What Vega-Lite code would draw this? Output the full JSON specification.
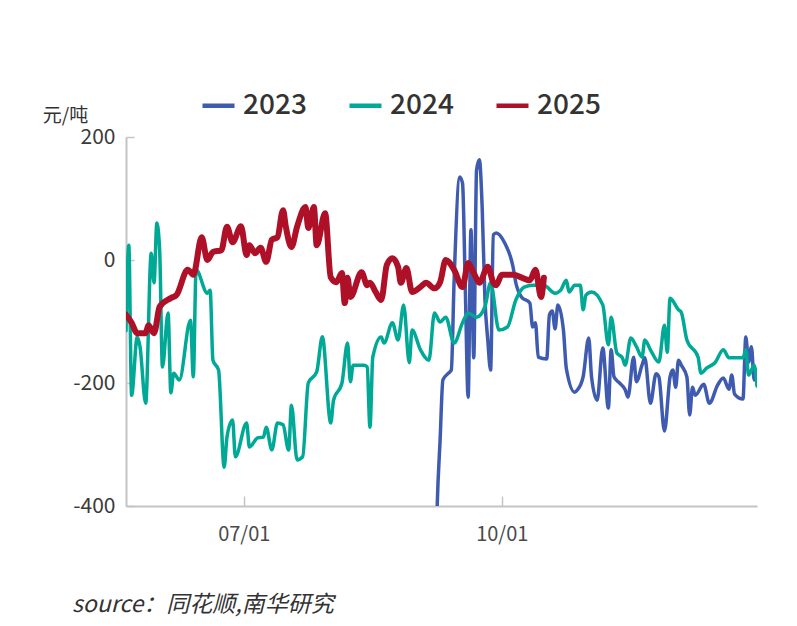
{
  "$schema": "https://vega.github.io/schema/vega-lite/v6.json",
  "autosize": {"type": "none"},
  "padding": {"left": 126, "top": 137, "right": 40, "bottom": 120},
  "width": 631,
  "height": 369,
  "background": "white",
  "config": {
    "view": {"stroke": null},
    "font": "Noto Sans CJK SC"
  },
  "title": {
    "text": "source：同花顺,南华研究",
    "orient": "bottom",
    "anchor": "start",
    "frame": "group",
    "dx": -54,
    "offset": 50,
    "fontSize": 23,
    "fontWeight": "normal",
    "fontStyle": "italic",
    "color": "#333333",
    "font": "Noto Sans CJK SC"
  },
  "datasets": {
    "spread": [
      {"s": "2023", "d": "2023-09-07", "v": -600},
      {"s": "2023", "d": "2023-09-08", "v": -395},
      {"s": "2023", "d": "2023-09-09", "v": -293},
      {"s": "2023", "d": "2023-09-10", "v": -195},
      {"s": "2023", "d": "2023-09-12", "v": -184},
      {"s": "2023", "d": "2023-09-13", "v": -179},
      {"s": "2023", "d": "2023-09-14", "v": -33},
      {"s": "2023", "d": "2023-09-16", "v": 135},
      {"s": "2023", "d": "2023-09-17", "v": 125},
      {"s": "2023", "d": "2023-09-18", "v": -49},
      {"s": "2023", "d": "2023-09-19", "v": -223},
      {"s": "2023", "d": "2023-09-20", "v": 49},
      {"s": "2023", "d": "2023-09-21", "v": -159},
      {"s": "2023", "d": "2023-09-22", "v": 146},
      {"s": "2023", "d": "2023-09-23", "v": 163},
      {"s": "2023", "d": "2023-09-24", "v": 86},
      {"s": "2023", "d": "2023-09-25", "v": -65},
      {"s": "2023", "d": "2023-09-26", "v": -130},
      {"s": "2023", "d": "2023-09-27", "v": -179},
      {"s": "2023", "d": "2023-09-28", "v": 41},
      {"s": "2023", "d": "2023-09-29", "v": 44},
      {"s": "2023", "d": "2023-10-02", "v": 28},
      {"s": "2023", "d": "2023-10-05", "v": -11},
      {"s": "2023", "d": "2023-10-06", "v": -37},
      {"s": "2023", "d": "2023-10-08", "v": -60},
      {"s": "2023", "d": "2023-10-11", "v": -70},
      {"s": "2023", "d": "2023-10-12", "v": -109},
      {"s": "2023", "d": "2023-10-13", "v": -102},
      {"s": "2023", "d": "2023-10-14", "v": -158},
      {"s": "2023", "d": "2023-10-17", "v": -161},
      {"s": "2023", "d": "2023-10-18", "v": -89},
      {"s": "2023", "d": "2023-10-19", "v": -83},
      {"s": "2023", "d": "2023-10-20", "v": -112},
      {"s": "2023", "d": "2023-10-21", "v": -73},
      {"s": "2023", "d": "2023-10-23", "v": -115},
      {"s": "2023", "d": "2023-10-24", "v": -176},
      {"s": "2023", "d": "2023-10-27", "v": -215},
      {"s": "2023", "d": "2023-10-28", "v": -211},
      {"s": "2023", "d": "2023-10-30", "v": -190},
      {"s": "2023", "d": "2023-11-01", "v": -127},
      {"s": "2023", "d": "2023-11-02", "v": -190},
      {"s": "2023", "d": "2023-11-04", "v": -228},
      {"s": "2023", "d": "2023-11-06", "v": -143},
      {"s": "2023", "d": "2023-11-08", "v": -241},
      {"s": "2023", "d": "2023-11-09", "v": -146},
      {"s": "2023", "d": "2023-11-10", "v": -190},
      {"s": "2023", "d": "2023-11-12", "v": -200},
      {"s": "2023", "d": "2023-11-14", "v": -211},
      {"s": "2023", "d": "2023-11-15", "v": -223},
      {"s": "2023", "d": "2023-11-17", "v": -158},
      {"s": "2023", "d": "2023-11-18", "v": -198},
      {"s": "2023", "d": "2023-11-20", "v": -171},
      {"s": "2023", "d": "2023-11-21", "v": -159},
      {"s": "2023", "d": "2023-11-23", "v": -233},
      {"s": "2023", "d": "2023-11-25", "v": -185},
      {"s": "2023", "d": "2023-11-26", "v": -190},
      {"s": "2023", "d": "2023-11-28", "v": -278},
      {"s": "2023", "d": "2023-11-30", "v": -190},
      {"s": "2023", "d": "2023-12-01", "v": -179},
      {"s": "2023", "d": "2023-12-02", "v": -207},
      {"s": "2023", "d": "2023-12-03", "v": -163},
      {"s": "2023", "d": "2023-12-04", "v": -171},
      {"s": "2023", "d": "2023-12-06", "v": -190},
      {"s": "2023", "d": "2023-12-07", "v": -252},
      {"s": "2023", "d": "2023-12-08", "v": -207},
      {"s": "2023", "d": "2023-12-09", "v": -220},
      {"s": "2023", "d": "2023-12-12", "v": -202},
      {"s": "2023", "d": "2023-12-14", "v": -233},
      {"s": "2023", "d": "2023-12-17", "v": -203},
      {"s": "2023", "d": "2023-12-19", "v": -192},
      {"s": "2023", "d": "2023-12-21", "v": -210},
      {"s": "2023", "d": "2023-12-22", "v": -187},
      {"s": "2023", "d": "2023-12-23", "v": -218},
      {"s": "2023", "d": "2023-12-26", "v": -226},
      {"s": "2023", "d": "2023-12-27", "v": -125},
      {"s": "2023", "d": "2023-12-28", "v": -166},
      {"s": "2023", "d": "2023-12-29", "v": -141},
      {"s": "2023", "d": "2023-12-30", "v": -195},
      {"s": "2023", "d": "2023-12-31", "v": -182},
      {"s": "2024", "d": "2024-05-20", "v": -115},
      {"s": "2024", "d": "2024-05-21", "v": 24},
      {"s": "2024", "d": "2024-05-22", "v": -220},
      {"s": "2024", "d": "2024-05-24", "v": -125},
      {"s": "2024", "d": "2024-05-25", "v": -141},
      {"s": "2024", "d": "2024-05-27", "v": -233},
      {"s": "2024", "d": "2024-05-29", "v": 11},
      {"s": "2024", "d": "2024-05-30", "v": -37},
      {"s": "2024", "d": "2024-05-31", "v": 60},
      {"s": "2024", "d": "2024-06-01", "v": 16},
      {"s": "2024", "d": "2024-06-02", "v": -174},
      {"s": "2024", "d": "2024-06-04", "v": -86},
      {"s": "2024", "d": "2024-06-05", "v": -216},
      {"s": "2024", "d": "2024-06-06", "v": -184},
      {"s": "2024", "d": "2024-06-08", "v": -195},
      {"s": "2024", "d": "2024-06-12", "v": -98},
      {"s": "2024", "d": "2024-06-13", "v": -190},
      {"s": "2024", "d": "2024-06-14", "v": -16},
      {"s": "2024", "d": "2024-06-18", "v": -54},
      {"s": "2024", "d": "2024-06-19", "v": -49},
      {"s": "2024", "d": "2024-06-20", "v": -163},
      {"s": "2024", "d": "2024-06-22", "v": -179},
      {"s": "2024", "d": "2024-06-24", "v": -337},
      {"s": "2024", "d": "2024-06-25", "v": -288},
      {"s": "2024", "d": "2024-06-27", "v": -260},
      {"s": "2024", "d": "2024-06-28", "v": -320},
      {"s": "2024", "d": "2024-07-02", "v": -265},
      {"s": "2024", "d": "2024-07-03", "v": -304},
      {"s": "2024", "d": "2024-07-06", "v": -289},
      {"s": "2024", "d": "2024-07-08", "v": -288},
      {"s": "2024", "d": "2024-07-09", "v": -272},
      {"s": "2024", "d": "2024-07-11", "v": -309},
      {"s": "2024", "d": "2024-07-13", "v": -265},
      {"s": "2024", "d": "2024-07-15", "v": -268},
      {"s": "2024", "d": "2024-07-17", "v": -309},
      {"s": "2024", "d": "2024-07-18", "v": -236},
      {"s": "2024", "d": "2024-07-20", "v": -325},
      {"s": "2024", "d": "2024-07-22", "v": -320},
      {"s": "2024", "d": "2024-07-24", "v": -200},
      {"s": "2024", "d": "2024-07-27", "v": -182},
      {"s": "2024", "d": "2024-07-29", "v": -125},
      {"s": "2024", "d": "2024-08-01", "v": -265},
      {"s": "2024", "d": "2024-08-02", "v": -228},
      {"s": "2024", "d": "2024-08-05", "v": -200},
      {"s": "2024", "d": "2024-08-07", "v": -135},
      {"s": "2024", "d": "2024-08-08", "v": -198},
      {"s": "2024", "d": "2024-08-09", "v": -171},
      {"s": "2024", "d": "2024-08-13", "v": -171},
      {"s": "2024", "d": "2024-08-14", "v": -174},
      {"s": "2024", "d": "2024-08-15", "v": -272},
      {"s": "2024", "d": "2024-08-16", "v": -158},
      {"s": "2024", "d": "2024-08-19", "v": -125},
      {"s": "2024", "d": "2024-08-20", "v": -135},
      {"s": "2024", "d": "2024-08-23", "v": -102},
      {"s": "2024", "d": "2024-08-25", "v": -130},
      {"s": "2024", "d": "2024-08-27", "v": -73},
      {"s": "2024", "d": "2024-08-29", "v": -167},
      {"s": "2024", "d": "2024-08-30", "v": -114},
      {"s": "2024", "d": "2024-09-02", "v": -146},
      {"s": "2024", "d": "2024-09-05", "v": -163},
      {"s": "2024", "d": "2024-09-07", "v": -86},
      {"s": "2024", "d": "2024-09-09", "v": -101},
      {"s": "2024", "d": "2024-09-11", "v": -93},
      {"s": "2024", "d": "2024-09-14", "v": -135},
      {"s": "2024", "d": "2024-09-17", "v": -102},
      {"s": "2024", "d": "2024-09-19", "v": -86},
      {"s": "2024", "d": "2024-09-22", "v": -93},
      {"s": "2024", "d": "2024-09-25", "v": -76},
      {"s": "2024", "d": "2024-09-27", "v": -37},
      {"s": "2024", "d": "2024-09-30", "v": -114},
      {"s": "2024", "d": "2024-10-03", "v": -109},
      {"s": "2024", "d": "2024-10-06", "v": -65},
      {"s": "2024", "d": "2024-10-09", "v": -44},
      {"s": "2024", "d": "2024-10-12", "v": -41},
      {"s": "2024", "d": "2024-10-16", "v": -41},
      {"s": "2024", "d": "2024-10-20", "v": -54},
      {"s": "2024", "d": "2024-10-22", "v": -49},
      {"s": "2024", "d": "2024-10-24", "v": -33},
      {"s": "2024", "d": "2024-10-25", "v": -52},
      {"s": "2024", "d": "2024-10-27", "v": -41},
      {"s": "2024", "d": "2024-10-29", "v": -41},
      {"s": "2024", "d": "2024-10-30", "v": -81},
      {"s": "2024", "d": "2024-10-31", "v": -57},
      {"s": "2024", "d": "2024-11-02", "v": -52},
      {"s": "2024", "d": "2024-11-06", "v": -73},
      {"s": "2024", "d": "2024-11-08", "v": -138},
      {"s": "2024", "d": "2024-11-09", "v": -93},
      {"s": "2024", "d": "2024-11-11", "v": -151},
      {"s": "2024", "d": "2024-11-13", "v": -159},
      {"s": "2024", "d": "2024-11-14", "v": -171},
      {"s": "2024", "d": "2024-11-16", "v": -127},
      {"s": "2024", "d": "2024-11-18", "v": -141},
      {"s": "2024", "d": "2024-11-20", "v": -158},
      {"s": "2024", "d": "2024-11-21", "v": -130},
      {"s": "2024", "d": "2024-11-23", "v": -146},
      {"s": "2024", "d": "2024-11-26", "v": -166},
      {"s": "2024", "d": "2024-11-28", "v": -106},
      {"s": "2024", "d": "2024-11-29", "v": -150},
      {"s": "2024", "d": "2024-11-30", "v": -62},
      {"s": "2024", "d": "2024-12-03", "v": -81},
      {"s": "2024", "d": "2024-12-04", "v": -85},
      {"s": "2024", "d": "2024-12-06", "v": -130},
      {"s": "2024", "d": "2024-12-10", "v": -158},
      {"s": "2024", "d": "2024-12-11", "v": -184},
      {"s": "2024", "d": "2024-12-13", "v": -176},
      {"s": "2024", "d": "2024-12-16", "v": -167},
      {"s": "2024", "d": "2024-12-19", "v": -146},
      {"s": "2024", "d": "2024-12-21", "v": -159},
      {"s": "2024", "d": "2024-12-26", "v": -159},
      {"s": "2024", "d": "2024-12-27", "v": -146},
      {"s": "2024", "d": "2024-12-28", "v": -187},
      {"s": "2024", "d": "2024-12-30", "v": -171},
      {"s": "2024", "d": "2024-12-31", "v": -205},
      {"s": "2025", "d": "2025-05-20", "v": -89},
      {"s": "2025", "d": "2025-05-22", "v": -102},
      {"s": "2025", "d": "2025-05-24", "v": -119},
      {"s": "2025", "d": "2025-05-27", "v": -119},
      {"s": "2025", "d": "2025-05-28", "v": -106},
      {"s": "2025", "d": "2025-05-30", "v": -119},
      {"s": "2025", "d": "2025-06-01", "v": -76},
      {"s": "2025", "d": "2025-06-05", "v": -62},
      {"s": "2025", "d": "2025-06-07", "v": -57},
      {"s": "2025", "d": "2025-06-11", "v": -16},
      {"s": "2025", "d": "2025-06-13", "v": -24},
      {"s": "2025", "d": "2025-06-16", "v": 37},
      {"s": "2025", "d": "2025-06-18", "v": 0},
      {"s": "2025", "d": "2025-06-20", "v": 13},
      {"s": "2025", "d": "2025-06-23", "v": 16},
      {"s": "2025", "d": "2025-06-25", "v": 54},
      {"s": "2025", "d": "2025-06-27", "v": 29},
      {"s": "2025", "d": "2025-06-30", "v": 55},
      {"s": "2025", "d": "2025-07-02", "v": 8},
      {"s": "2025", "d": "2025-07-03", "v": 24},
      {"s": "2025", "d": "2025-07-05", "v": 11},
      {"s": "2025", "d": "2025-07-07", "v": 20},
      {"s": "2025", "d": "2025-07-09", "v": -3},
      {"s": "2025", "d": "2025-07-11", "v": 33},
      {"s": "2025", "d": "2025-07-13", "v": 37},
      {"s": "2025", "d": "2025-07-15", "v": 81},
      {"s": "2025", "d": "2025-07-16", "v": 54},
      {"s": "2025", "d": "2025-07-18", "v": 21},
      {"s": "2025", "d": "2025-07-20", "v": 54},
      {"s": "2025", "d": "2025-07-23", "v": 86},
      {"s": "2025", "d": "2025-07-24", "v": 52},
      {"s": "2025", "d": "2025-07-26", "v": 86},
      {"s": "2025", "d": "2025-07-27", "v": 24},
      {"s": "2025", "d": "2025-07-30", "v": 76},
      {"s": "2025", "d": "2025-08-01", "v": -28},
      {"s": "2025", "d": "2025-08-03", "v": -36},
      {"s": "2025", "d": "2025-08-05", "v": -21},
      {"s": "2025", "d": "2025-08-06", "v": -70},
      {"s": "2025", "d": "2025-08-07", "v": -29},
      {"s": "2025", "d": "2025-08-08", "v": -60},
      {"s": "2025", "d": "2025-08-12", "v": -20},
      {"s": "2025", "d": "2025-08-14", "v": -41},
      {"s": "2025", "d": "2025-08-15", "v": -37},
      {"s": "2025", "d": "2025-08-17", "v": -52},
      {"s": "2025", "d": "2025-08-19", "v": -65},
      {"s": "2025", "d": "2025-08-21", "v": -8},
      {"s": "2025", "d": "2025-08-23", "v": 3},
      {"s": "2025", "d": "2025-08-25", "v": -11},
      {"s": "2025", "d": "2025-08-26", "v": -37},
      {"s": "2025", "d": "2025-08-28", "v": -13},
      {"s": "2025", "d": "2025-08-30", "v": -52},
      {"s": "2025", "d": "2025-09-02", "v": -44},
      {"s": "2025", "d": "2025-09-04", "v": -37},
      {"s": "2025", "d": "2025-09-07", "v": -46},
      {"s": "2025", "d": "2025-09-09", "v": -36},
      {"s": "2025", "d": "2025-09-11", "v": 0},
      {"s": "2025", "d": "2025-09-14", "v": -16},
      {"s": "2025", "d": "2025-09-17", "v": -44},
      {"s": "2025", "d": "2025-09-19", "v": -5},
      {"s": "2025", "d": "2025-09-21", "v": -21},
      {"s": "2025", "d": "2025-09-23", "v": -37},
      {"s": "2025", "d": "2025-09-26", "v": -11},
      {"s": "2025", "d": "2025-09-28", "v": -37},
      {"s": "2025", "d": "2025-09-29", "v": -41},
      {"s": "2025", "d": "2025-10-01", "v": -24},
      {"s": "2025", "d": "2025-10-05", "v": -24},
      {"s": "2025", "d": "2025-10-11", "v": -33},
      {"s": "2025", "d": "2025-10-13", "v": -16},
      {"s": "2025", "d": "2025-10-15", "v": -60},
      {"s": "2025", "d": "2025-10-16", "v": -29}
    ]
  },
  "data": {"name": "spread"},
  "mark": {"type": "line", "interpolate": "monotone", "clip": true, "strokeCap": "round", "strokeJoin": "round"},
  "encoding": {
    "x": {
      "field": "d",
      "type": "temporal",
      "timeUnit": "utcmonthdate",
      "scale": {"domain": [{"year": 2012, "month": 5, "date": 20, "utc": true}, {"year": 2012, "month": 12, "date": 31, "utc": true}]},
      "axis": {
        "title": null,
        "values": [{"year": 2012, "month": 7, "date": 1, "utc": true}, {"year": 2012, "month": 10, "date": 1, "utc": true}],
        "format": "%m/%d",
        "grid": false,
        "domainColor": "#c4c4c4",
        "domainWidth": 2,
        "tickColor": "#c4c4c4",
        "tickWidth": 1.5,
        "tickSize": -10,
        "labelPadding": 28,
        "labelFontSize": 20,
        "labelColor": "#4a4a4a",
        "labelFont": "Noto Sans CJK SC"
      }
    },
    "y": {
      "field": "v",
      "type": "quantitative",
      "scale": {"domain": [-400, 200], "nice": false, "zero": false},
      "axis": {
        "values": [-400, -200, 0, 200],
        "grid": false,
        "labelExpr": "replace(datum.label, '−', '-')",
        "title": "元/吨",
        "titleAngle": 0,
        "titleX": -61,
        "titleY": -22,
        "titleAlign": "center",
        "titleBaseline": "middle",
        "titleFontSize": 19,
        "titleFontWeight": "normal",
        "titleColor": "#333333",
        "titleFont": "Noto Sans CJK SC",
        "domainColor": "#c4c4c4",
        "domainWidth": 2,
        "tickColor": "#c4c4c4",
        "tickWidth": 1.5,
        "tickSize": -8,
        "labelPadding": 19,
        "labelFontSize": 21,
        "labelColor": "#3a3a3a",
        "labelFont": "Noto Sans CJK SC"
      }
    },
    "color": {
      "field": "s",
      "type": "nominal",
      "scale": {"domain": ["2023", "2024", "2025"], "range": ["#3f5bb0", "#00a896", "#ae1028"]},
      "legend": {
        "title": null,
        "orient": "none",
        "direction": "horizontal",
        "legendX": 74,
        "legendY": -50,
        "symbolType": "stroke",
        "symbolSize": 1024,
        "symbolStrokeWidth": 4.5,
        "labelFontSize": 28,
        "labelFontWeight": 500,
        "labelColor": "#333333",
        "labelFont": "Noto Sans CJK SC",
        "labelOffset": 6,
        "columnPadding": 33
      }
    },
    "strokeWidth": {
      "condition": {"test": "datum.s === '2025'", "value": 6},
      "value": 3.5
    }
  }
}
